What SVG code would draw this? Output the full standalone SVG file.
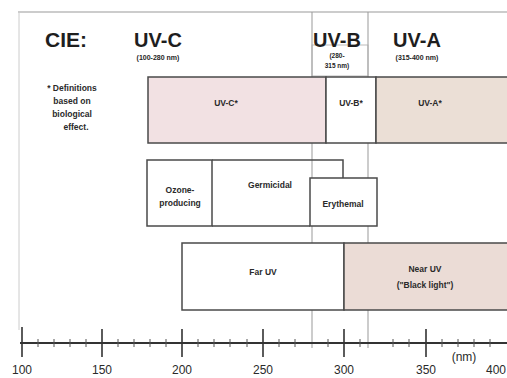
<svg xmlns="http://www.w3.org/2000/svg" width="507" height="378" viewBox="0 0 507 378">
<style>
.box{stroke:#4a4a4a;stroke-width:1.5}
.hdr{font-family:"Liberation Sans",Arial,sans-serif;font-weight:bold;fill:#1e1e1e;text-anchor:middle}
.lbl{font-family:"Liberation Sans",Arial,sans-serif;font-weight:bold;font-size:8.5px;fill:#2a2a2a;text-anchor:middle}
.ax{font-family:"Liberation Sans",Arial,sans-serif;font-size:12px;fill:#2a2a2a;text-anchor:middle}
.guide{stroke:#999;stroke-width:1}
.tick{stroke:#333;stroke-width:1.6}
.mt{stroke:#555;stroke-width:1}
</style>
<rect width="507" height="378" fill="#ffffff"/>
<g id="frame">
<line x1="18" y1="12" x2="507" y2="12" class="guide" stroke="#8a8a8a"/>
<line x1="19" y1="12" x2="19" y2="330" stroke="#ccc" stroke-width="1"/>
<line x1="312" y1="12" x2="312" y2="348" class="guide"/>
<line x1="368" y1="12" x2="368" y2="348" class="guide"/>
<rect x="312" y="45" width="56" height="31" fill="none" stroke="#aaa" stroke-width="0.8"/>
</g>
<g id="headers">
<text x="66" y="47" class="hdr" font-size="21">CIE:</text>
<g id="uvc-h"><text x="158" y="47" class="hdr" font-size="20">UV-C</text><text x="158" y="60" class="hdr" font-size="7">(100-280 nm)</text></g>
<g id="uvb-h"><text x="337" y="47" class="hdr" font-size="20">UV-B</text><text x="337" y="58" class="hdr" font-size="6.5">(280-</text><text x="337" y="68" class="hdr" font-size="6.5">315 nm)</text></g>
<g id="uva-h"><text x="417" y="47" class="hdr" font-size="20">UV-A</text><text x="417" y="60" class="hdr" font-size="7">(315-400 nm)</text></g>
</g>
<g id="footnote">
<text x="72" y="91" class="lbl" font-size="7.5">* Definitions</text>
<text x="72" y="104" class="lbl" font-size="7.5">based on</text>
<text x="72" y="117" class="lbl" font-size="7.5">biological</text>
<text x="76" y="130" class="lbl" font-size="7.5">effect.</text>
</g>
<g id="uvc-bio"><rect x="148" y="77" width="178" height="66" fill="#f2e1e3" class="box"/><text x="226" y="106" class="lbl">UV-C*</text></g>
<g id="uvb-bio"><rect x="326" y="77" width="50" height="66" fill="#ffffff" class="box"/><text x="351" y="106" class="lbl">UV-B*</text></g>
<g id="uva-bio"><rect x="376" y="77" width="135" height="66" fill="#ebdfd6" class="box"/><text x="430" y="106" class="lbl">UV-A*</text></g>
<g id="ozone"><rect x="147" y="160" width="65" height="66" fill="#ffffff" class="box"/><text x="180" y="193" class="lbl">Ozone-</text><text x="180" y="206" class="lbl">producing</text></g>
<g id="germicidal"><path d="M212 160 H343 V178 M212 226 H310" fill="none" class="box"/><text x="270" y="188" class="lbl">Germicidal</text></g>
<g id="erythemal"><rect x="310" y="178" width="67" height="48" fill="#ffffff" class="box"/><text x="343" y="207" class="lbl">Erythemal</text></g>
<g id="far-uv"><rect x="182" y="243" width="162" height="67" fill="#ffffff" class="box"/><text x="263" y="275" class="lbl">Far UV</text></g>
<g id="near-uv"><rect x="344" y="243" width="167" height="67" fill="#ebdcd6" class="box"/><text x="425" y="272" class="lbl">Near UV</text><text x="425" y="288" class="lbl">("Black light")</text></g>
<g id="axis">
<line x1="20" y1="343" x2="507" y2="343" stroke="#333" stroke-width="2"/>
<g class="tick">
<line x1="22" y1="327" x2="22" y2="357"/><line x1="102" y1="329" x2="102" y2="357"/><line x1="182" y1="329" x2="182" y2="357"/><line x1="263" y1="329" x2="263" y2="357"/><line x1="344" y1="329" x2="344" y2="357"/><line x1="426" y1="329" x2="426" y2="357"/>
</g>
<g class="mt">
<line x1="38" y1="339" x2="38" y2="347"/><line x1="54" y1="339" x2="54" y2="347"/><line x1="70" y1="339" x2="70" y2="347"/><line x1="86" y1="339" x2="86" y2="347"/>
<line x1="118" y1="339" x2="118" y2="347"/><line x1="134" y1="339" x2="134" y2="347"/><line x1="150" y1="339" x2="150" y2="347"/><line x1="166" y1="339" x2="166" y2="347"/>
<line x1="198" y1="339" x2="198" y2="347"/><line x1="214" y1="339" x2="214" y2="347"/><line x1="230" y1="339" x2="230" y2="347"/><line x1="247" y1="339" x2="247" y2="347"/>
<line x1="279" y1="339" x2="279" y2="347"/><line x1="295" y1="339" x2="295" y2="347"/><line x1="328" y1="339" x2="328" y2="347"/>
<line x1="360" y1="339" x2="360" y2="347"/><line x1="393" y1="339" x2="393" y2="347"/><line x1="409" y1="339" x2="409" y2="347"/>
<line x1="442" y1="339" x2="442" y2="347"/><line x1="458" y1="339" x2="458" y2="347"/><line x1="474" y1="339" x2="474" y2="347"/><line x1="490" y1="339" x2="490" y2="347"/>
</g>
<text x="22" y="374" class="ax">100</text>
<text x="102" y="374" class="ax">150</text>
<text x="182" y="374" class="ax">200</text>
<text x="263" y="374" class="ax">250</text>
<text x="344" y="374" class="ax">300</text>
<text x="426" y="374" class="ax">350</text>
<text x="506" y="374" class="ax" style="text-anchor:end">400</text>
<text x="464" y="361" class="ax">(nm)</text>
</g>
</svg>
